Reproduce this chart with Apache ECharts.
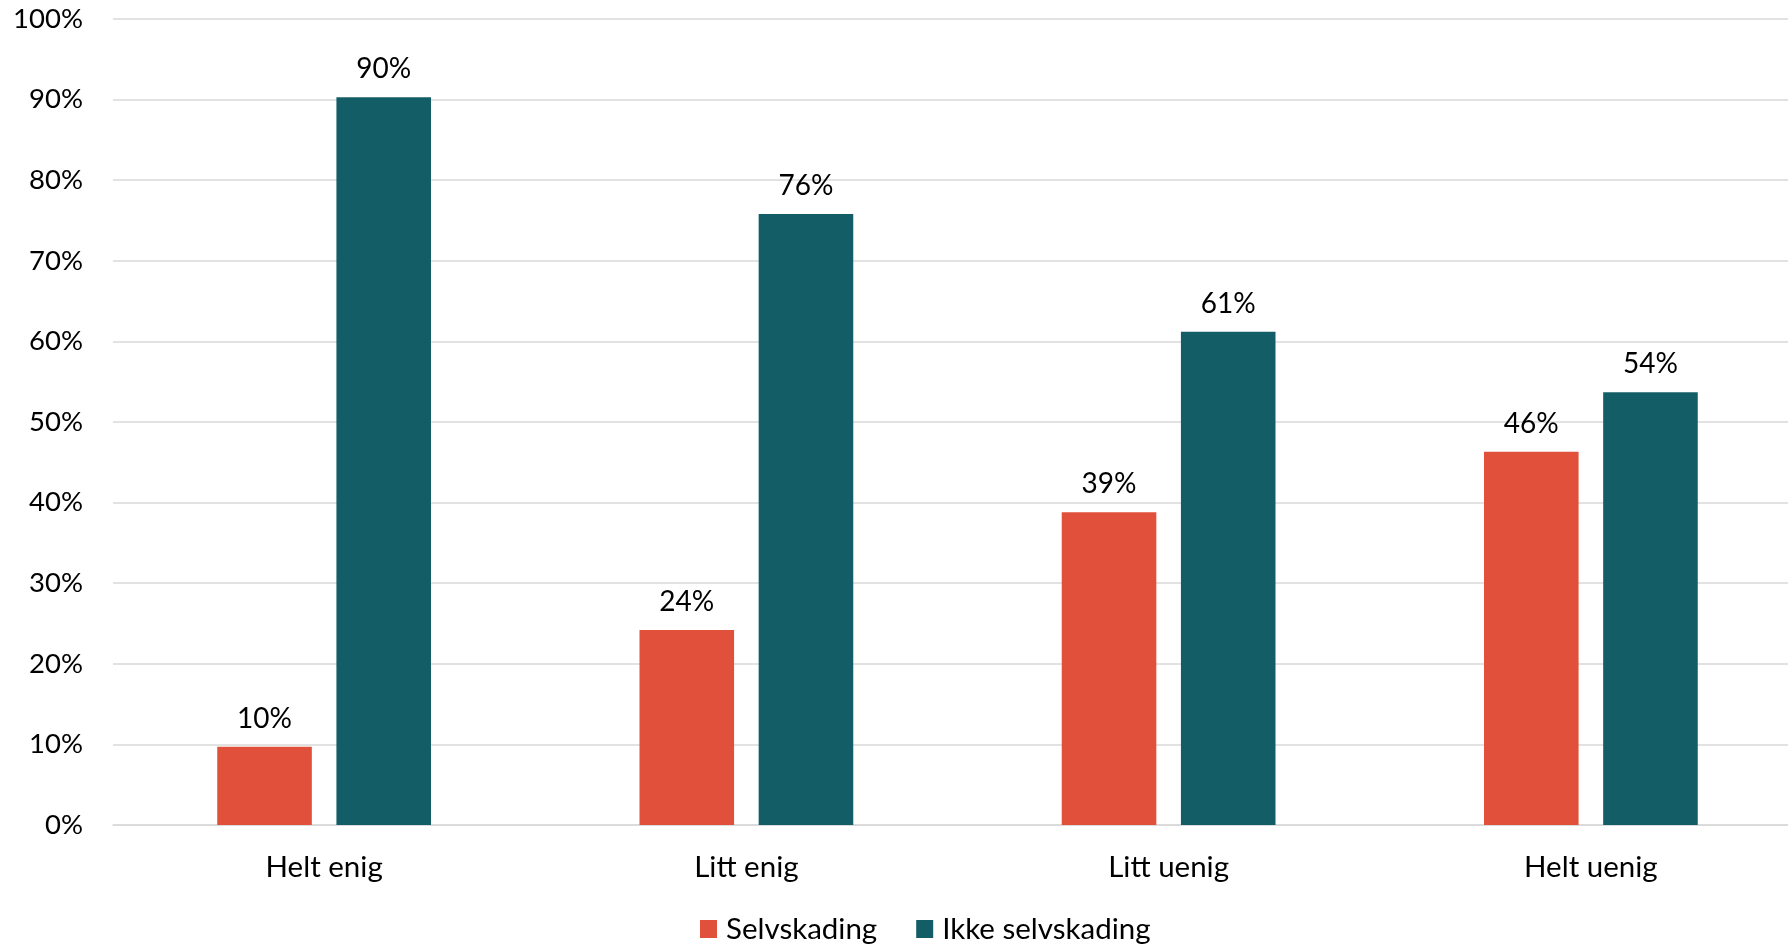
<!DOCTYPE html>
<html><head><meta charset="utf-8">
<script src="https://cdn.jsdelivr.net/npm/echarts@6/dist/echarts.min.js"></script>
<style>html,body{margin:0;padding:0;background:#fff;overflow:hidden}#c{width:1802px;height:945px}</style>
</head><body><div id="c"></div>
<script>
const categories = ["Helt enig", "Litt enig", "Litt uenig", "Helt uenig"];
const selvskading = [9.7, 24.2, 38.8, 46.3];
const ikkeSelvskading = [90.3, 75.8, 61.2, 53.7];
const seriesNames = ["Selvskading", "Ikke selvskading"];
const colors = ["#E0503A", "#135E66"];
const FONT = "Lato, 'Open Sans', sans-serif";

const chart = echarts.init(document.getElementById('c'));
const lbl = {
  show: true, position: 'top', distance: 14,
  formatter: p => Math.round(p.value) + '%',
  fontFamily: FONT, fontSize: 28, color: '#000'
};
chart.setOption({
  animation: false,
  color: colors,
  grid: {left: 113, right: 0, top: 19, bottom: 120, containLabel: false},
  legend: {
    data: seriesNames, left: 695, top: 909, itemWidth: 17, itemHeight: 18, itemGap: 39,
    textStyle: {fontFamily: FONT, fontSize: 29.5, color: '#000', padding: [0, 0, 0, 4]},
    icon: 'rect'
  },
  xAxis: {
    type: 'category', data: categories,
    axisLine: {show: true, lineStyle: {color: '#d9d9d9', width: 1.5}},
    axisTick: {show: false},
    axisLabel: {fontFamily: FONT, fontSize: 29.5, color: '#000', margin: 27}
  },
  yAxis: {
    type: 'value', min: 0, max: 100, interval: 10,
    axisLine: {show: false}, axisTick: {show: false},
    axisLabel: {formatter: '{value}%', fontFamily: FONT, fontSize: 27.5, color: '#000', margin: 30},
    splitLine: {lineStyle: {color: '#d9d9d9', width: 1.5}}
  },
  series: [
    {name: seriesNames[0], type: 'bar', data: selvskading, barWidth: '22.4%', barGap: '26%', label: lbl},
    {name: seriesNames[1], type: 'bar', data: ikkeSelvskading, barWidth: '22.4%', barGap: '26%', label: lbl}
  ]
});
</script></body></html>
